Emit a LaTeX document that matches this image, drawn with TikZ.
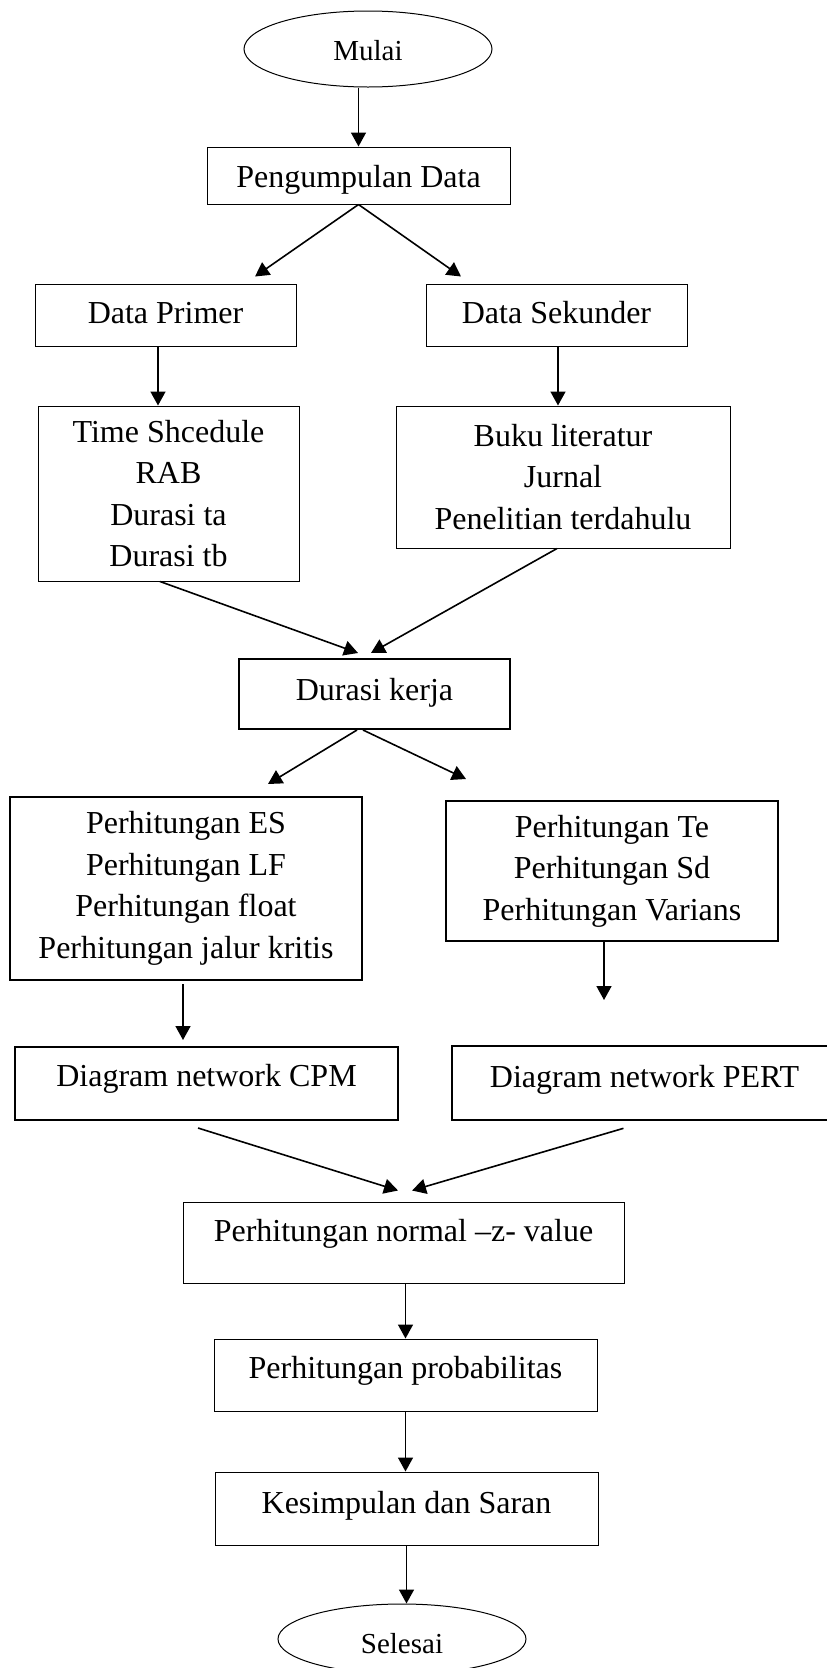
\documentclass[tikz,border=0pt]{standalone}
\usepackage{fontspec}
\setmainfont{Liberation Serif}
\usetikzlibrary{arrows.meta,shapes.geometric,calc}
\begin{document}
\begin{tikzpicture}[x=1pt,y=-1pt,
  box/.style={draw, rectangle, line width=1pt, inner sep=0pt, font=\fontsize{32}{41.5}\selectfont, align=center},
  heavy/.style={line width=2pt},
  heavier/.style={line width=2.6pt},
  one/.style={text height=#1, text depth=7pt},
  oval/.style={draw, ellipse, line width=1pt, inner sep=0pt, font=\fontsize{29}{35}\selectfont},
  arr/.style={line width=1.6pt, -{Triangle[length=14pt,width=15pt]}}]
\path[fill=white, use as bounding box] (0,0) rectangle (827,1668);

\node[oval, minimum width=248pt, minimum height=76pt, one=29pt] (mulai) at (368,49) {Mulai};
\node[box, minimum width=303pt, minimum height=57pt, one=30pt] (peng) at (358.5,175.5) {Pengumpulan Data};
\node[box, minimum width=261pt, minimum height=62pt, one=23pt] (primer) at (165.5,315) {Data Primer};
\node[box, minimum width=261pt, minimum height=62pt, one=23pt] (sek) at (556.5,315) {Data Sekunder};
\node[box, minimum width=261pt, minimum height=175pt] (time) at (168.5,493.5) {Time Shcedule\\RAB\\Durasi ta\\Durasi tb};
\node[box, minimum width=334pt, minimum height=142pt] (buku) at (563,477) {Buku literatur\\Jurnal\\Penelitian terdahulu};
\node[box, heavy, minimum width=271pt, minimum height=70pt, one=19pt] (durasi) at (374.5,694) {Durasi kerja};
\node[box, heavy, minimum width=352pt, minimum height=183pt] (es) at (186,888.5) {Perhitungan ES\\Perhitungan LF\\Perhitungan float\\Perhitungan jalur kritis};
\node[box, heavy, minimum width=332pt, minimum height=140pt] (te) at (612,871) {Perhitungan Te\\Perhitungan Sd\\Perhitungan Varians};
\node[box, heavy, minimum width=383pt, minimum height=73pt, one=12pt] (cpm) at (206.5,1083.5) {Diagram network CPM};
\node[box, heavier, minimum width=385pt, minimum height=74pt, one=15pt] (pert) at (644.5,1083) {Diagram network PERT};
\node[box, minimum width=441pt, minimum height=81pt, one=4pt] (normal) at (403.5,1242.5) {Perhitungan normal –z- value};
\node[box, minimum width=383pt, minimum height=72pt, one=13pt] (prob) at (405.5,1375) {Perhitungan probabilitas};
\node[box, minimum width=383pt, minimum height=73pt, one=16pt] (kes) at (406.5,1508.5) {Kesimpulan dan Saran};
\node[oval, minimum width=248pt, minimum height=70pt, one=35pt] (selesai) at (402,1639) {Selesai};

\draw[arr] (peng.north |- mulai.south) -- (peng.north);
\draw[arr] (peng.south) -- ($(primer.north)+(89.5,-7)$);
\draw[arr] (peng.south) -- ($(sek.north)+(-95.5,-7)$);
\draw[arr] ($(primer.south)+(-7.5,0)$) -- ($(primer.south |- time.north)+(-7.5,0)$);
\draw[arr] ($(sek.south)+(1.5,0)$) -- ($(sek.south |- buku.north)+(1.5,0)$);
\draw[arr] ($(time.south)+(-8.5,0)$) -- ($(durasi.north)+(-16.5,-5)$);
\draw[arr] ($(buku.south)+(-6,0)$) -- ($(durasi.north)+(-3.5,-5)$);
\draw[arr] ($(durasi.south)+(-17.5,0)$) -- ($(es.north)+(82,-12)$);
\draw[arr] ($(durasi.south)+(-11.5,0)$) -- ($(te.north)+(-146,-21)$);
\draw[arr] ($(es.south)+(-3,3)$) -- ($(es.south |- cpm.north)+(-3,-6)$);
\coordinate (teend) at (604,1000);
\draw[arr] (te.south -| teend) -- (teend);
\draw[arr] ($(cpm.south)+(-8.5,7)$) -- ($(normal.north)+(-5.5,-11)$);
\draw[arr] ($(pert.south)+(-21,7)$) -- ($(normal.north)+(8.5,-11)$);
\draw[arr] (normal.south -| prob.north) -- (prob.north);
\draw[arr] (prob.south) -- (prob.south |- kes.north);
\draw[arr] (kes.south) -- (kes.south |- selesai.north);
\end{tikzpicture}
\end{document}
